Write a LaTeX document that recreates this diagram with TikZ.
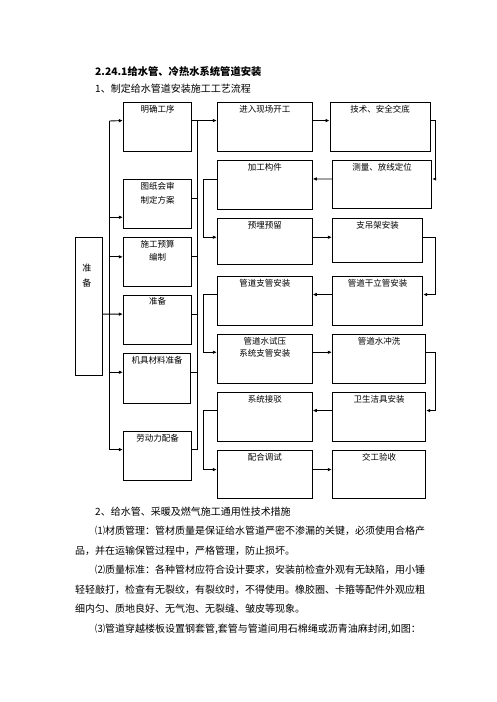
\documentclass[tikz,border=0pt]{standalone}
\usepackage{fontspec}
\setmainfont{Noto Sans CJK SC}
\usetikzlibrary{arrows.meta,fit}
\XeTeXlinebreaklocale "zh"
\XeTeXlinebreakskip=0pt plus 3pt minus 1pt
\tikzset{
  box/.style={draw, line width=0.9pt, inner sep=0pt},
  boxlbl/.style={anchor=north, inner sep=0pt, yshift=-3pt,
              font=\fontsize{8.5}{12.7}\selectfont, align=center},
  flow/.style={-{Latex[length=4pt,width=3.6pt]}, line width=0.9pt},
  inflow/.style={{Latex[length=4pt,width=3.6pt]}-, line width=0.9pt},
  wire/.style={line width=0.9pt},
  para/.style={anchor=base west, inner sep=0pt, font=\fontsize{10}{12}\selectfont},
}

\begin{document}
\begin{tikzpicture}[x=1pt, y=-1pt]
  \useasboundingbox (0,0) rectangle (496,702);
  \node[para, font=\fontsize{10.3}{12}\selectfont\bfseries] (ttl) at (95,75.3) {2.24.1给水管、冷热水系统管道安装};
  \node[para] (sub) at (95,92.6) {1、制定给水管道安装施工工艺流程};
  % first column
  \node[box, fit={(75,237.3)(102.7,375)},
        label={[boxlbl, yshift=-24pt, xshift=-2pt, font=\fontsize{9}{12.7}\selectfont]north:准\\[2.3pt]备}] (zb) {};
  % second column
  \node[box, fit={(123.3,102.3)(191.7,151)}, label={[boxlbl]north:明确工序}] (mq) {};
  \node[box, fit={(123.3,179.3)(191.7,228.3)}, label={[boxlbl]north:图纸会审\\[2pt]制定方案}] (tz) {};
  \node[box, fit={(123.3,237.7)(191.7,286)}, label={[boxlbl]north:施工预算\\编制}] (sg) {};
  \node[box, fit={(123.3,295)(191.7,344)}, label={[boxlbl]north:准备}] (zb2) {};
  \node[box, fit={(123.3,353.3)(190.7,403.3)}, label={[boxlbl]north:机具材料准备}] (jj) {};
  \node[box, fit={(123.3,431.7)(191.7,480)}, label={[boxlbl]north:劳动力配备}] (ld) {};
  % third column
  \node[box, fit={(217.3,102.3)(312.3,151)}, label={[boxlbl]north:进入现场开工}] (jr) {};
  \node[box, fit={(217.3,160.7)(312.3,209)}, label={[boxlbl]north:加工构件}] (jg) {};
  \node[box, fit={(217.3,218.3)(312.3,264.3)}, label={[boxlbl]north:预埋预留}] (ym) {};
  \node[box, fit={(217.3,276.7)(312.3,325)}, label={[boxlbl]north:管道支管安装}] (zgz) {};
  \node[box, fit={(217.3,334.3)(312.3,383.3)}, label={[boxlbl]north:管道水试压\\系统支管安装}] (sy) {};
  \node[box, fit={(217.3,392.3)(312.3,441)}, label={[boxlbl]north:系统接驳}] (jb) {};
  \node[box, fit={(217.3,450.7)(312.3,498.3)}, label={[boxlbl]north:配合调试}] (ph) {};
  % fourth column
  \node[box, fit={(330,102.3)(430,151)}, label={[boxlbl]north:技术、安全交底}] (js) {};
  \node[box, fit={(332.3,160.7)(431.7,208.3)}, label={[boxlbl]north:测量、放线定位}] (cl) {};
  \node[box, fit={(332.3,218.3)(422.7,262.3)}, label={[boxlbl]north:支吊架安装}] (zd) {};
  \node[box, fit={(332.3,276.7)(422.7,325)}, label={[boxlbl]north:管道干立管安装}] (gl) {};
  \node[box, fit={(332.3,334.3)(425.7,383.3)}, label={[boxlbl]north:管道水冲洗}] (cx) {};
  \node[box, fit={(332.3,392.3)(425.7,441)}, label={[boxlbl]north:卫生洁具安装}] (ws) {};
  \node[box, fit={(332.3,450.7)(425.7,498.3)}, label={[boxlbl]north:交工验收}] (jy) {};

  \coordinate (lbt) at (109.3,121);
  \coordinate (lbb) at (109.3,450);
  \coordinate (rbt) at (197.3,121);
  \coordinate (rbb) at (197.3,450);
  \draw[wire] (lbt) -- (lbb);
  \draw[wire] (rbt) -- (rbb);

  \draw[flow] (lbt) -- ([yshift=-18.7pt]mq.north west);
  \draw[inflow] ([yshift=-38.4pt]tz.north west) -- ++(-14,0);
  \draw[inflow] ([yshift=-19.6pt]sg.north west) -- ++(-14,0);
  \draw[flow] ([yshift=-77.3pt]zb.north east) -- ([yshift=-19.6pt]zb2.north west);
  \draw[inflow] ([yshift=-19.4pt]jj.north west) -- ++(-14,0);
  \draw[inflow] ([yshift=-18.3pt]ld.north west) -- ++(-14,0);

  \draw[flow] ([yshift=-18.7pt]mq.north east) -- ([yshift=-18.7pt]jr.north west);
  \draw[wire] ([yshift=-20pt]tz.north east) -- ++(5.6,0);
  \draw[wire] ([yshift=-19.6pt]sg.north east) -- ++(5.6,0);
  \draw[wire] ([yshift=-20pt]zb2.north east) -- ++(5.6,0);
  \draw[wire] ([yshift=-20pt]jj.north east) -- ++(6.6,0);
  \draw[wire] ([yshift=-18.3pt]ld.north east) -- ++(5.6,0);

  \draw[flow] ([yshift=-18.7pt]jr.north east) -- ([yshift=-18.7pt]js.north west);
  \draw[flow] ([yshift=-18.7pt]js.north east) -- ++(4.7,0) |- ([yshift=-18.7pt]cl.north east);
  \draw[flow] ([yshift=-18.7pt]cl.north west) -- ([yshift=-18.7pt]jg.north east);
  \draw[flow] ([yshift=-18.7pt]jg.north west) -- ++(-13.3,0) |- ([yshift=-19.4pt]ym.north west);
  \draw[flow] ([yshift=-19.4pt]ym.north east) -- ([yshift=-19.4pt]zd.north west);
  \draw[flow] ([yshift=-19.4pt]zd.north east) -- ++(12,0) |- ([yshift=-18.3pt]gl.north east);
  \draw[flow] ([yshift=-18.3pt]gl.north west) -- ([yshift=-18.3pt]zgz.north east);
  \draw[flow] ([yshift=-18.3pt]zgz.north west) -- ++(-13.3,0) |- ([yshift=-18.4pt]sy.north west);
  \draw[flow] ([yshift=-18.4pt]sy.north east) -- ([yshift=-18.4pt]cx.north west);
  \draw[flow] ([yshift=-18.4pt]cx.north east) -- ++(9,0) |- ([yshift=-18.7pt]ws.north east);
  \draw[flow] ([yshift=-18.7pt]ws.north west) -- ([yshift=-18.7pt]jb.north east);
  \draw[flow] ([yshift=-18.7pt]jb.north west) -- ++(-13.3,0) |- ([yshift=-19.3pt]ph.north west);
  \draw[flow] ([yshift=-19.3pt]ph.north east) -- ([yshift=-19.3pt]jy.north west);

  \node[para] (p1) at (95,515.5) {2、给水管、采暖及燃气施工通用性技术措施};
  \node[para] (p2) at (95,534.8) {\hbox to 325pt{⑴材质管理：管材质量是保证给水管道严密不渗漏的关键，必须使用合格产}};
  \node[para] (p3) at (75,554.8) {品，并在运输保管过程中，严格管理，防止损坏。};
  \node[para] (p4) at (95,573.8) {\hbox to 325pt{⑵质量标准：各种管材应符合设计要求，安装前检查外观有无缺陷，用小锤}};
  \node[para] (p5) at (75,593.1) {\hbox to 345pt{轻轻敲打，检查有无裂纹，有裂纹时，不得使用。橡胶圈、卡箍等配件外观应粗}};
  \node[para] (p6) at (75,612.8) {细内匀、质地良好、无气泡、无裂缝、皱皮等现象。};
  \node[para] (p7) at (95,632.1) {\hbox to 320pt{⑶管道穿越楼板设置钢套管,套管与管道间用石棉绳或沥青油麻封闭,如图：}};
\end{tikzpicture}
\end{document}
